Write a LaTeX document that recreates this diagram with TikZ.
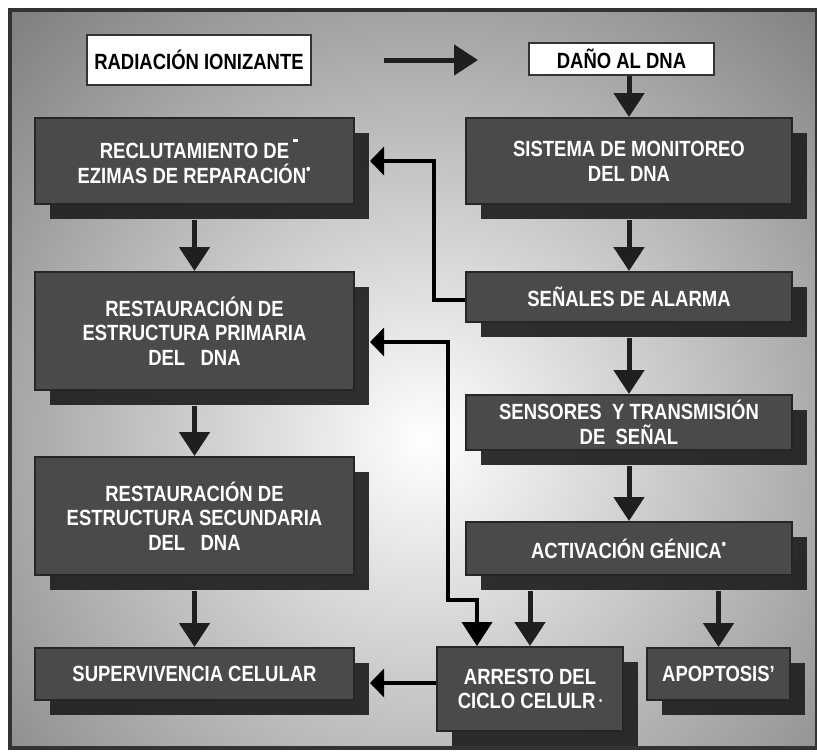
\documentclass[tikz,border=0pt]{standalone}
\usepackage{fontspec}
\setmainfont{Liberation Sans}[FakeStretch=0.84]
\usetikzlibrary{arrows.meta,shadows,calc}

\tikzset{
  caja/.style={draw=black!85, line width=1.5pt, fill=black!71, text=white,
    inner sep=0pt, align=center, font=\fontsize{16.5}{18.5}\selectfont\bfseries,
    drop shadow={shadow xshift=11.25pt, shadow yshift=-11.25pt, fill=black!88, opacity=0.92}},
  blanca/.style={draw=black!80, line width=1.5pt, fill=white, text=black,
    inner sep=0pt, align=center, font=\fontsize{16.5}{18.5}\selectfont\bfseries},
  flecha/.style={draw=black!88, line width=3.75pt, -{Triangle[width=22.5pt,length=18pt]}},
  retro/.style={draw=black, line width=3pt},
}
\newcommand{\marca}{\textsuperscript{•}}

\begin{document}
\begin{tikzpicture}[x=0.75pt, y=-0.75pt]
  \useasboundingbox (0,0) rectangle (817,751);
  % fondo
  \fill[black!54] (10,10) rectangle (817,748);
  \begin{scope}
    \clip (10,10) rectangle (817,748);
    \shade[inner color=white, outer color=black!54] (425,440) circle (480pt);
  \end{scope}
  \draw[black!80, line width=2.5pt] (10,10) rectangle (817,748);

  % cajas
  \node[blanca, minimum width=168pt, minimum height=37.5pt] (rad) at (199,60) {RADIACIÓN IONIZANTE};
  \node[blanca, minimum width=138.75pt, minimum height=24pt] (dano) at (621.5,59) {DAÑO AL DNA};

  \node[caja, minimum width=239.25pt, minimum height=64.5pt] (reclut) at (194.5,161)
    {RECLUTAMIENTO DE\rlap{\,\raisebox{1.4ex}{\rule{4pt}{2.5pt}}}\\EZIMAS DE REPARACIÓN\marca};
  \node[caja, minimum width=244.5pt, minimum height=64.5pt] (sistema) at (629,161)
    {SISTEMA DE MONITOREO\\DEL DNA};
  \node[caja, minimum width=239.25pt, minimum height=88.5pt] (prim) at (194.5,331)
    {RESTAURACIÓN DE\\ESTRUCTURA PRIMARIA\\DEL\ \ \ DNA};
  \node[caja, minimum width=244.5pt, minimum height=37.5pt] (senales) at (629,297)
    {SEÑALES DE ALARMA};
  \node[caja, minimum width=244.5pt, minimum height=41.25pt] (sensores) at (629,422.5)
    {SENSORES\ \ Y TRANSMISIÓN\\DE\ \ SEÑAL};
  \node[caja, minimum width=239.25pt, minimum height=88.5pt] (secund) at (194.5,516)
    {RESTAURACIÓN DE\\ESTRUCTURA SECUNDARIA\\DEL\ \ \ DNA};
  \node[caja, minimum width=244.5pt, minimum height=39.75pt] (activ) at (629,548.5)
    {ACTIVACIÓN GÉNICA\marca};
  \node[caja, minimum width=239.25pt, minimum height=39pt] (superv) at (194.5,674)
    {SUPERVIVENCIA CELULAR};
  \node[caja, minimum width=139.5pt, minimum height=63pt] (arresto) at (530,689)
    {ARRESTO DEL\\CICLO CELULR\,\raisebox{0.35ex}{\footnotesize •}};
  \node[caja, minimum width=107.25pt, minimum height=39pt] (apopt) at (718.5,674)
    {APOPTOSIS’};

  % flechas
  \draw[flecha, shorten <=54pt, shorten >=37.5pt] (rad.east) -- (rad.east -| dano.west);
  \draw[flecha] (dano.south -| sistema.north) -- (sistema.north);
  \draw[flecha] ([yshift=-11.25pt]reclut.south) -- (prim.north);
  \draw[flecha] ([yshift=-11.25pt]prim.south) -- (secund.north);
  \draw[flecha] ([yshift=-11.25pt]secund.south) -- (superv.north);
  \draw[flecha] ([yshift=-11.25pt]sistema.south) -- (senales.north);
  \draw[flecha] ([yshift=-11.25pt]senales.south) -- (sensores.north);
  \draw[flecha] ([yshift=-11.25pt]sensores.south) -- (activ.north);
  \coordinate (activbajo) at ([yshift=-11.25pt]activ.south);
  \draw[flecha] (activbajo -| arresto.north) -- (arresto.north);
  \draw[flecha] (activbajo -| apopt.north) -- (apopt.north);

  % retroalimentacion
  \draw[retro, -{Triangle[width=21pt,length=10.5pt]}]
    ([yshift=-2.25pt]senales.west) -- ++(-31,0) |- ([xshift=11.25pt]reclut.east);
  \coordinate (codo) at (448,600);
  \draw[retro, {Triangle[width=21pt,length=10.5pt]}-{Triangle[width=22.5pt,length=18pt]}]
    ([xshift=11.25pt,yshift=-8.25pt]prim.east) -| (codo) -| ([xshift=-39.75pt]arresto.north);
  \coordinate (supsombra) at ([xshift=11.25pt]superv.east);
  \coordinate (arrizq) at ([yshift=4.5pt]arresto.west);
  \draw[retro, -{Triangle[width=21pt,length=10.5pt]}] (arrizq) -- (arrizq -| supsombra);
\end{tikzpicture}
\end{document}
